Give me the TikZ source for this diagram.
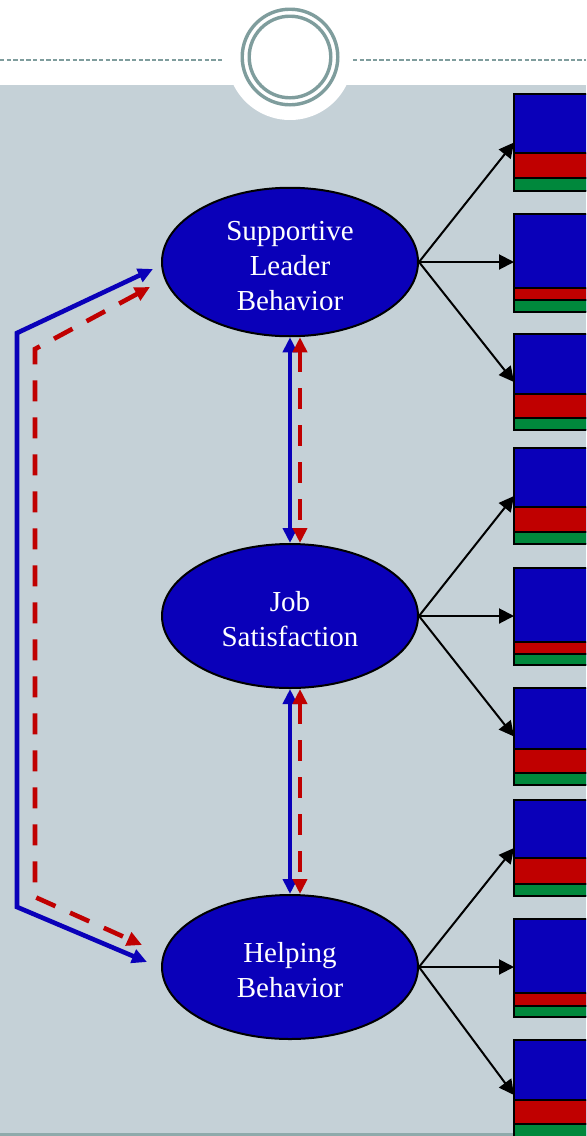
\documentclass[tikz,border=0pt]{standalone}
\usepackage{fontspec}
\setmainfont{Liberation Serif}
\usetikzlibrary{arrows.meta,shapes.geometric}
\definecolor{bgray}{RGB}{197,209,215}
\definecolor{tealline}{RGB}{127,157,157}
\definecolor{stripc}{RGB}{143,170,171}
\definecolor{nblue}{RGB}{10,0,185}
\definecolor{nred}{RGB}{192,0,0}
\definecolor{ngreen}{RGB}{0,136,60}
\newcommand\indbox[5]{%
  \pgfmathsetmacro\bh{(#5-#2)/2}%
  \node[indicator, minimum height=\bh pt] (#1) at (514,#2) {};
  \draw[line width=1pt, fill=nred] (514,#3) rectangle (604,#4);
  \draw[line width=1pt, fill=ngreen] (514,#4) rectangle (604,#5);
}
\newcommand\lattext[1]{\raisebox{-3pt}[\height][\depth]{\begin{tabular}{@{}c@{}}#1\end{tabular}}}
\begin{document}
\begin{tikzpicture}[x=0.5pt,y=-0.5pt,
  latent/.style={ellipse, draw=black, line width=1pt, fill=nblue,
    minimum width=128pt, minimum height=72pt, text=white, align=center,
    font=\fontsize{14.5}{17.5}\selectfont, inner sep=0pt},
  indicator/.style={draw=black, line width=1pt, fill=nblue, anchor=north west,
    inner sep=0pt, outer sep=0pt, minimum width=45pt},
  outarrow/.style={draw=black, line width=1pt, -{Triangle[length=7.5pt,width=7.5pt]}},
  bluecov/.style={draw=nblue, line width=2.3pt, miter limit=10,
    {Triangle[length=7.5pt,width=7pt]}-{Triangle[length=7.5pt,width=7pt]}},
  redcov/.style={draw=nred, line width=2.3pt, dash pattern=on 10.5pt off 8pt,
    {Triangle[length=7.5pt,width=7pt]}-{Triangle[length=7.5pt,width=7pt]}},
  topdash/.style={draw=tealline, line width=1pt, dash pattern=on 2.2pt off 1.1pt}
]
\clip (0,0) rectangle (586,1136);
\fill[white] (0,0) rectangle (586,1136);
\fill[bgray] (0,85) rectangle (586,1133);
\fill[stripc] (0,1133) rectangle (586,1136);
\fill[white] (290,57) circle[radius=63];
\draw[topdash] (0,60) -- (224,60);
\draw[topdash] (353,60) -- (586,60);
\draw[tealline, line width=1.7pt] (290,57) circle[radius=47.8];
\draw[tealline, line width=1.7pt] (290,57) circle[radius=40.8];

\node[latent] (slb) at (290,262) {\lattext{Supportive\\Leader\\Behavior}};
\node[latent] (job) at (290,616) {\lattext{Job\\Satisfaction}};
\node[latent] (hb) at (290,967) {\lattext{Helping\\Behavior}};

\indbox{b1}{94}{153}{178}{191}
\indbox{b2}{214}{288}{300}{312}
\indbox{b3}{334}{394}{418}{430}
\indbox{b4}{448}{507}{532}{544}
\indbox{b5}{568}{642}{654}{665}
\indbox{b6}{688}{749}{773}{785}
\indbox{b7}{800}{858}{884}{896}
\indbox{b8}{919}{993}{1006}{1017}
\indbox{b9}{1040}{1100}{1124}{1150}

\draw[outarrow] (slb.east) -- (b1.west);
\draw[outarrow] (slb.east) -- (slb.east -| b2.west);
\draw[outarrow] (slb.east) -- (b3.west);
\draw[outarrow] (job.east) -- (b4.west);
\draw[outarrow] (job.east) -- (job.east -| b5.west);
\draw[outarrow] (job.east) -- (b6.west);
\draw[outarrow] (hb.east) -- (b7.west);
\draw[outarrow] (hb.east) -- (hb.east -| b8.west);
\draw[outarrow] (hb.east) -- (b9.west);

\draw[bluecov] (slb.south) -- (job.north);
\draw[redcov] ([xshift=5pt]slb.south) -- ([xshift=5pt]job.north);
\draw[bluecov] (job.south) -- (hb.north);
\draw[redcov] ([xshift=5pt]job.south) -- ([xshift=5pt]hb.north);

\coordinate (bt1) at (153,269);
\coordinate (bc1) at (17,333);
\coordinate (bc2) at (17,907);
\coordinate (bt2) at (147,962);
\coordinate (rt1) at (150,287);
\coordinate (rc1) at (35,349);
\coordinate (rc2) at (35,897);
\coordinate (rt2) at (142,945);
\draw[bluecov] (bt1) -- (bc1) -- (bc2) -- (bt2);
\draw[redcov] (rt1) -- (rc1) -- (rc2) -- (rt2);
\end{tikzpicture}
\end{document}
